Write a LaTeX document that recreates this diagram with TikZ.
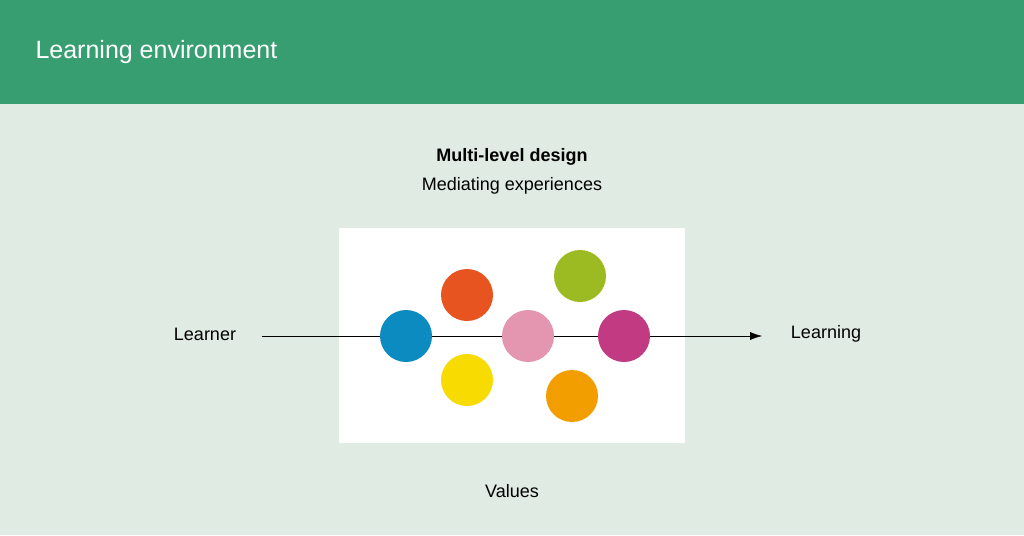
\documentclass[tikz,border=0pt]{standalone}
\usepackage{fontspec}
\setmainfont{Liberation Sans}
\usetikzlibrary{positioning,arrows.meta}
\definecolor{header}{HTML}{379E71}
\definecolor{backg}{HTML}{E0EBE3}
\definecolor{cblue}{HTML}{0B8BC0}
\definecolor{cred}{HTML}{E8541F}
\definecolor{cyellow}{HTML}{F8DB00}
\definecolor{cpink}{HTML}{E495B0}
\definecolor{cgreen}{HTML}{9CBA22}
\definecolor{corange}{HTML}{F29E00}
\definecolor{cmagenta}{HTML}{C13A82}
\begin{document}
\begin{tikzpicture}[x=1pt, y=-1pt,
  every node/.style={font=\fontsize{18}{21}\selectfont},
  dot/.style={circle, minimum size=52pt, inner sep=0pt}]
\useasboundingbox (0,0) rectangle (1024,535);
\fill [backg] (0,0) rectangle (1024,535);
\fill [header] (0,0) rectangle (1024,104);
\node [anchor=west, text=white, font=\fontsize{25}{30}\selectfont] (title) at (32,52) {Learning environment};

\node [font=\fontsize{18}{21}\selectfont\bfseries] (design) at (512,157) {Multi-level design};
\node (mediate) at (512,186) {Mediating experiences};
\fill [white] (339,228) rectangle (685,443);

\node (learner) at (205,334) {Learner};
\node (learning) at (826,334) {Learning};
\node (values) at (512,491) {Values};
\coordinate (start) at (262,336);
\coordinate (stop) at (762,336);
\draw [-{Latex[length=12pt,width=8pt]}] (start) -- (stop);

\node [dot, fill=cblue] (blue) at (406,336) {};
\node [dot, fill=cred] (red) at (467,295) {};
\node [dot, fill=cyellow] (yellow) at (467,380) {};
\node [dot, fill=cpink] (pink) at (528,336) {};
\node [dot, fill=cgreen] (green) at (580,276) {};
\node [dot, fill=corange] (orange) at (572,396) {};
\node [dot, fill=cmagenta] (magenta) at (624,336) {};
\end{tikzpicture}
\end{document}
